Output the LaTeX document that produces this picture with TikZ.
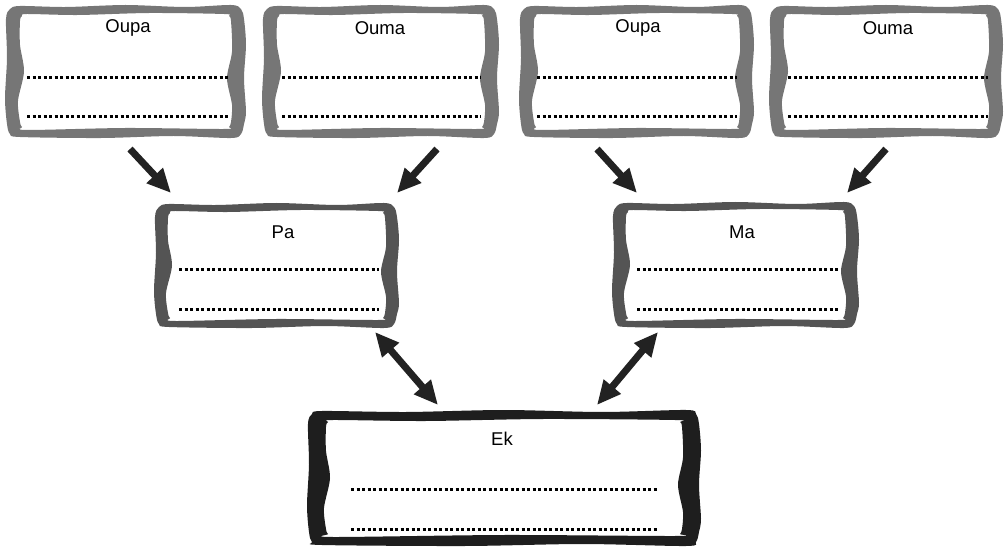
\documentclass[tikz,border=0pt]{standalone}
\usepackage{fontspec}
\setmainfont{Liberation Sans}
\usetikzlibrary{arrows.meta}
\definecolor{gtop}{HTML}{767676}
\definecolor{gmid}{HTML}{545454}
\definecolor{gbot}{HTML}{1E1E1E}
\definecolor{arrc}{HTML}{222222}
\tikzset{
  lbl/.style={inner sep=0pt, font=\fontsize{18.5}{21}\selectfont},
  area/.style={draw=none, inner sep=0pt},
  dotline/.style={line width=3pt, dash pattern=on 3pt off 2.5pt, black},
  onearr/.style={-{Triangle[length=24pt,width=21pt]}, line width=7pt, arrc},
  twoarr/.style={{Triangle[length=24pt,width=21pt]}-{Triangle[length=24pt,width=21pt]}, line width=7pt, arrc},
}
% #1 x1, #2 y1, #3 x2, #4 y2, #5 colour, #6 side thickness, #7 top thickness
\newcommand{\wobframe}[7]{%
  \pgfmathsetmacro\bw{#3-#1}%
  \pgfmathsetmacro\bh{#4-#2}%
  \fill[#5, even odd rule]
    plot[smooth cycle, tension=0.5] coordinates {
      ({#1+4},{#2+4}) ({#1+14},{#2+1}) ({#1+0.25*\bw},{#2+2}) ({#1+0.5*\bw},{#2})
      ({#1+0.75*\bw},{#2+2}) ({#3-14},{#2}) ({#3-4},{#2+4}) ({#3-1},{#2+14})
      ({#3+1},{#2+0.3*\bh}) ({#3-1},{#2+0.55*\bh}) ({#3+1},{#2+0.8*\bh}) ({#3-1},{#4-14})
      ({#3-4},{#4-4}) ({#3-14},{#4}) ({#1+0.7*\bw},{#4-2}) ({#1+0.4*\bw},{#4})
      ({#1+14},{#4-1}) ({#1+4},{#4-4}) ({#1+1},{#4-14}) ({#1-1},{#2+0.7*\bh})
      ({#1+1},{#2+0.4*\bh}) ({#1},{#2+14})
    }
    plot[smooth cycle, tension=0.5] coordinates {
      ({#1+#6+2},{#2+#7+2}) ({#1+#6+7},{#2+#7}) ({#1+0.3*\bw},{#2+#7+1}) ({#1+0.6*\bw},{#2+#7-1})
      ({#3-#6-7},{#2+#7}) ({#3-#6-2},{#2+#7+2}) ({#3-#6},{#2+#7+7}) ({#3-#6+1},{#2+0.35*\bh})
      ({#3-#6-4},{#2+0.55*\bh}) ({#3-#6+1},{#2+0.75*\bh}) ({#3-#6},{#4-#7-7}) ({#3-#6-2},{#4-#7-2})
      ({#3-#6-7},{#4-#7}) ({#1+0.5*\bw},{#4-#7-1}) ({#1+#6+7},{#4-#7+1}) ({#1+#6+2},{#4-#7-2})
      ({#1+#6},{#4-#7-7}) ({#1+#6-2},{#2+0.72*\bh}) ({#1+#6+4},{#2+0.5*\bh}) ({#1+#6},{#2+0.3*\bh})
      ({#1+#6},{#2+#7+7})
    };%
}
\begin{document}
\begin{tikzpicture}[x=1pt, y=-1pt]
\useasboundingbox (0,0) rectangle (1005,548);

% frames
\wobframe{6}{5}{245}{138}{gtop}{14}{9}
\wobframe{263}{5}{498}{138}{gtop}{14}{9}
\wobframe{520}{5}{753}{138}{gtop}{14}{9}
\wobframe{770}{5}{1002}{138}{gtop}{14}{9}
\wobframe{155}{203}{398}{328}{gmid}{13}{8}
\wobframe{613}{202}{858}{328}{gmid}{13}{8}
\wobframe{308}{410}{700}{546}{gbot}{18}{10}

% named areas
\node[area, minimum width=239pt, minimum height=133pt] (oupa1) at (125.5,71.5) {};
\node[area, minimum width=235pt, minimum height=133pt] (ouma1) at (380.5,71.5) {};
\node[area, minimum width=233pt, minimum height=133pt] (oupa2) at (636.5,71.5) {};
\node[area, minimum width=232pt, minimum height=133pt] (ouma2) at (886,71.5) {};
\node[area, minimum width=243pt, minimum height=125pt] (pa) at (276.5,265.5) {};
\node[area, minimum width=245pt, minimum height=126pt] (ma) at (735.5,265) {};
\node[area, minimum width=392pt, minimum height=136pt] (ek) at (504,478) {};

% labels
\node[lbl] (l1) at (128,28) {Oupa};
\node[lbl] (l2) at (380,28) {Ouma};
\node[lbl] (l3) at (638,28) {Oupa};
\node[lbl] (l4) at (888,28) {Ouma};
\node[lbl] (l5) at (283,232) {Pa};
\node[lbl] (l6) at (742,232) {Ma};
\node[lbl] (l7) at (502,439) {Ek};

% dotted lines
\draw[dotline] (27,78) -- (228,78);
\draw[dotline] (27,117) -- (228,117);
\draw[dotline] (282,78) -- (481,78);
\draw[dotline] (282,117) -- (481,117);
\draw[dotline] (537,78) -- (737,78);
\draw[dotline] (537,117) -- (737,117);
\draw[dotline] (788,78) -- (988,78);
\draw[dotline] (788,117) -- (988,117);
\draw[dotline] (179,270) -- (379,270);
\draw[dotline] (179,310) -- (379,310);
\draw[dotline] (637,270) -- (838,270);
\draw[dotline] (637,310) -- (838,310);
\draw[dotline] (351,489) -- (658,489);
\draw[dotline] (351,529) -- (658,529);

% arrow end points
\coordinate (a1s) at (130,149);
\coordinate (a1e) at (171,193);
\coordinate (a2s) at (437,149);
\coordinate (a2e) at (397,193);
\coordinate (a3s) at (597,149);
\coordinate (a3e) at (637,193);
\coordinate (a4s) at (886,149);
\coordinate (a4e) at (847,193);
\coordinate (d1s) at (375,332);
\coordinate (d1e) at (438,405);
\coordinate (d2s) at (658,332);
\coordinate (d2e) at (597,405);

\draw[onearr] (a1s) -- (a1e);
\draw[onearr] (a2s) -- (a2e);
\draw[onearr] (a3s) -- (a3e);
\draw[onearr] (a4s) -- (a4e);
\draw[twoarr] (d1s) -- (d1e);
\draw[twoarr] (d2s) -- (d2e);
\end{tikzpicture}
\end{document}
